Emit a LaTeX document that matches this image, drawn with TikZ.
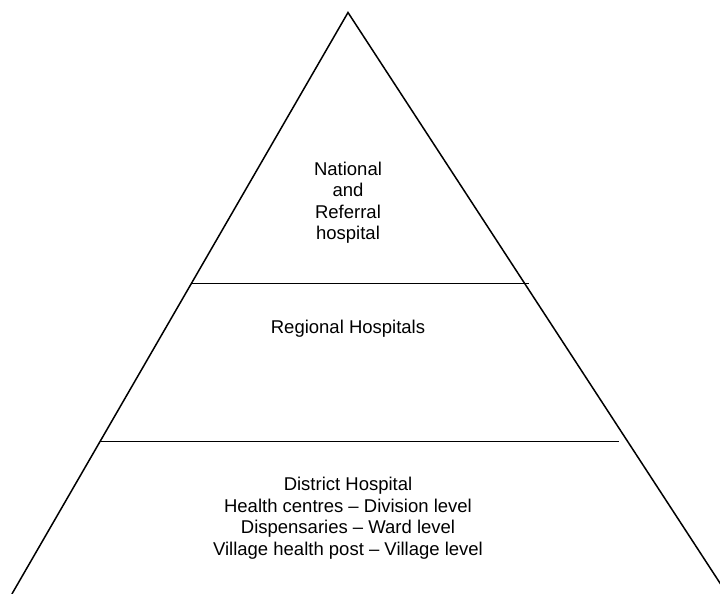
\documentclass[tikz,border=0pt]{standalone}
\usepackage{fontspec}
\setmainfont{Liberation Sans}
\begin{document}
\begin{tikzpicture}[x=1pt,y=-1pt,
  edge/.style={line width=1.5pt,line join=miter},
  level/.style={align=center,inner sep=0pt,anchor=base,
    font=\fontsize{18.5}{21.6}\selectfont}]
\useasboundingbox (0,0) rectangle (720,594);
\clip (0,0) rectangle (720,594);
\coordinate (apex) at (348,12.5);
\coordinate (bl) at (11.9,594);
\coordinate (br) at (727.1,594);
\coordinate (l1a) at (190.7,283.3);
\coordinate (l1b) at (529,283.3);
\coordinate (l2a) at (100,441.3);
\coordinate (l2b) at (619.3,441.3);
\draw[edge] (bl) -- (apex) -- (br);
\draw[edge] (l1a) -- (l1b);
\draw[edge] (l2a) -- (l2b);
% anchor=base of a multi-line node is the baseline of its last line
\node[level] (top) at (348,239.8) {National\\and\\Referral\\hospital};
\node[level] (mid) at (348,333.3) {Regional Hospitals};
\node[level] (bot) at (348,555.5) {District Hospital\\Health centres – Division level\\Dispensaries – Ward level\\Village health post – Village level};
\end{tikzpicture}
\end{document}
